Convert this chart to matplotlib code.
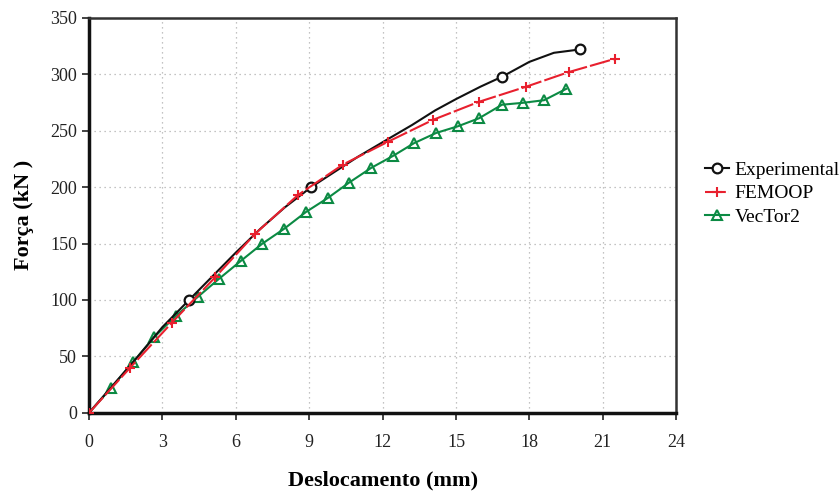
import matplotlib
matplotlib.use("Agg")
import matplotlib.pyplot as plt
import numpy as np

# Experimental
exp_x = [0, 1.0, 2.0, 3.0, 4.09, 5.0, 6.0, 7.0, 8.0, 9.08, 10.0, 11.0, 12.3, 13.2, 14.15, 15.0, 16.0, 16.9, 18.0, 19.0, 20.07]
exp_y = [0, 25, 50, 76, 100, 120, 142, 163, 182, 200, 213, 227, 243.6, 255, 268, 278, 289, 298, 311, 319, 322]
exp_marks = [4, 9, 17, 20]

# FEMOOP
fem_x = [0, 1.68, 3.39, 5.15, 6.79, 8.54, 10.38, 12.2, 14.06, 15.94, 17.87, 19.62, 21.5]
fem_y = [0, 40, 80, 120, 158.6, 193, 220, 240, 259.6, 275.6, 289, 302, 313.7]

# VecTor2
vec_x = [0, 0.9, 1.8, 2.66, 3.56, 4.46, 5.31, 6.21, 7.07, 7.97, 8.87, 9.77, 10.63, 11.53,
         12.43, 13.29, 14.19, 15.09, 15.94, 16.88, 17.74, 18.6, 19.5]
vec_y = [0, 22, 45, 67, 86, 103, 118.7, 134.7, 149.7, 163, 178, 190.5, 204, 217,
         227.7, 239, 248, 254, 261, 273, 274.7, 277, 287]

x_ticks = [0, 3, 6, 9, 12, 15, 18, 21, 24]
y_ticks = [0, 50, 100, 150, 200, 250, 300, 350]

plt.rcParams['font.family'] = ['Liberation Serif', 'DejaVu Serif']

fig = plt.figure(figsize=(8.4, 4.95), dpi=100)
ax = fig.add_axes([0.106, 0.166, 0.699, 0.798])

ax.plot(exp_x, exp_y, color='#111111', lw=1.5, marker='o', markevery=exp_marks,
        markersize=7, markerfacecolor='white', markeredgecolor='#111111',
        markeredgewidth=1.6, label='Experimental', zorder=3)
ax.plot(fem_x, fem_y, color='#e8202e', lw=1.5, marker='+', markersize=7,
        markeredgewidth=1.5, dashes=(10, 1.5), label='FEMOOP', zorder=3)
ax.plot(vec_x, vec_y, color='#0b8a43', lw=1.5, marker='^', markersize=7,
        markerfacecolor='none', markeredgecolor='#0b8a43', markeredgewidth=1.5,
        label='VecTor2', zorder=2)

ax.set_xlim(0, 24)
ax.set_ylim(0, 350)
ax.set_xticks(x_ticks)
ax.set_yticks(y_ticks)
ax.tick_params(axis='both', labelsize=13, direction='out', length=5, width=1.2, colors='#222222')
ax.tick_params(axis='x', pad=10)
ax.grid(True, linestyle=(0, (1, 3)), color='#b0b0b0', lw=0.9)
ax.set_axisbelow(True)

for s in ['left', 'bottom']:
    ax.spines[s].set_linewidth(2.5)
    ax.spines[s].set_color('#111111')
for s in ['top', 'right']:
    ax.spines[s].set_linewidth(1.8)
    ax.spines[s].set_color('#333333')

ax.set_xlabel('Deslocamento (mm)', fontsize=16, fontweight='bold', labelpad=14)
ax.set_ylabel('Força (kN )', fontsize=16, fontweight='bold', labelpad=12)

leg = ax.legend(loc='center left', bbox_to_anchor=(1.02, 0.555), frameon=False,
                fontsize=14, handlelength=1.2, handletextpad=0.3, labelspacing=0.3)

fig.savefig('out.png', dpi=100)
